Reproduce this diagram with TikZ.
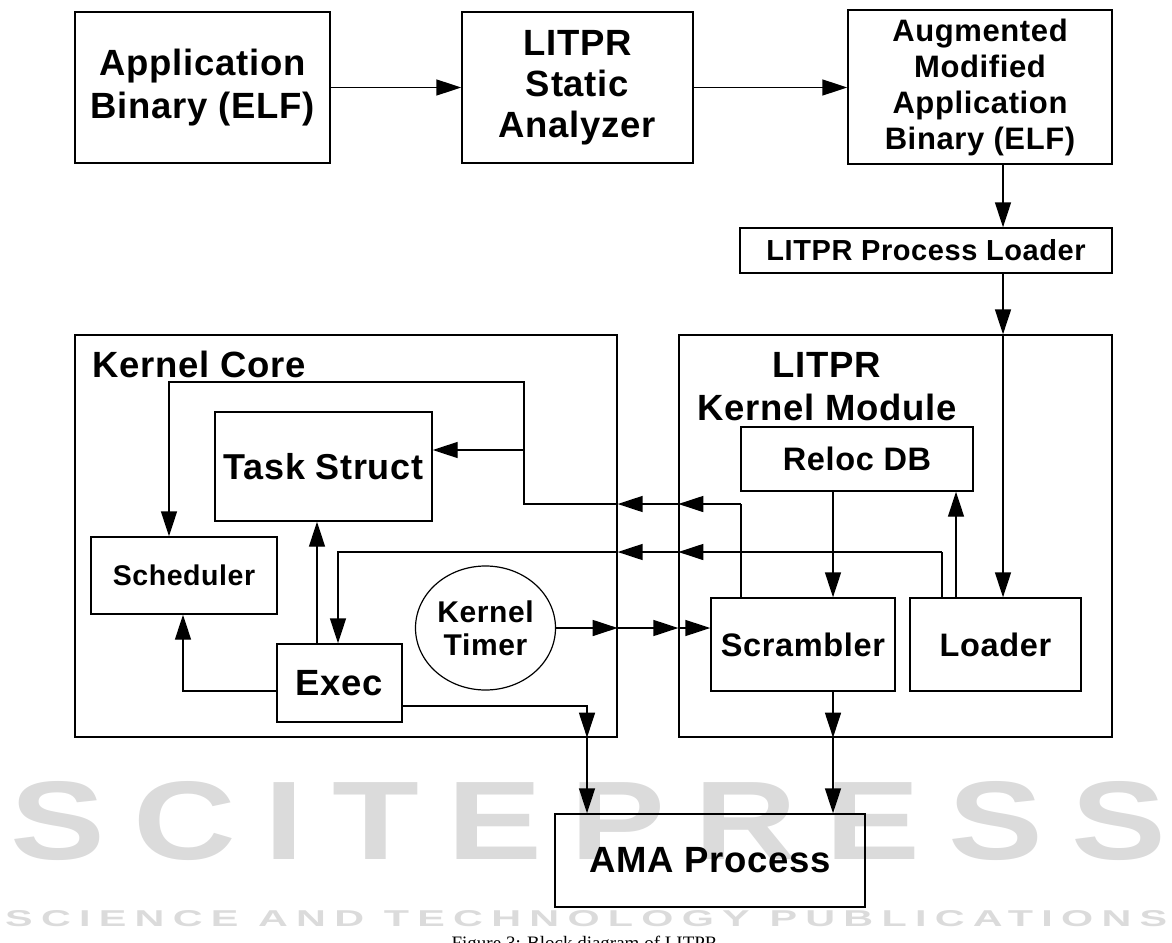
\documentclass[tikz,border=0pt]{standalone}
\usepackage{fontspec}
\setmainfont{Liberation Sans}
\newfontfamily\lbf{Liberation Sans}[LetterSpace=2]
\newfontfamily\wmf{Liberation Sans}[LetterSpace=20]
\newfontfamily\capf{Liberation Serif}
\usetikzlibrary{arrows.meta,shapes.geometric}
\newcommand{\fsz}[2]{\fontsize{#1}{#2}\selectfont}
\begin{document}
\begin{tikzpicture}[x=1pt,y=-1pt,
  box/.style={draw, line width=1.4pt, inner sep=0pt, align=center},
  arr/.style={line width=1.4pt, -{Triangle[length=25pt,width=16pt]}},
  ln/.style={line width=1.4pt},
  wm/.style={inner sep=0pt, text=black!14}]
\useasboundingbox (0,0) rectangle (1172,942);
% watermark
\node[wm, anchor=south west] (wm1) at (10,861) {\resizebox{1155pt}{78pt}{\wmf\bfseries SCITEPRESS}};
\node[wm, anchor=south west] (wm2) at (5,927) {\resizebox{1162pt}{16pt}{\wmf\bfseries SCIENCE AND TECHNOLOGY PUBLICATIONS}};
\node[anchor=base, inner sep=0pt, font=\capf\fsz{19}{22}] (cap) at (587,949) {Figure 3: Block diagram of LITPR.};
% top row
\node[box, minimum width=255, minimum height=151, font=\lbf\bfseries\fsz{36.5}{43}] (app) at (202.5,87.5) {Application\\Binary (ELF)};
\node[box, minimum width=231, minimum height=151, font=\lbf\bfseries\fsz{36.5}{41}] (sa) at (577.5,87.5) {LITPR\\Static\\Analyzer};
\node[box, minimum width=264, minimum height=154, font=\lbf\bfseries\fsz{31}{36}] (aug) at (980,87) {Augmented\\Modified\\Application\\Binary (ELF)};
\node[box, minimum width=372, minimum height=45, font=\lbf\bfseries\fsz{29}{32}] (pl) at (926,250.5) {LITPR Process Loader};
% big containers
\node[box, line width=1.3pt, minimum width=542, minimum height=402] (kc) at (346,536) {};
\node[box, line width=1.3pt, minimum width=433, minimum height=402] (km) at (895.5,536) {};
\node[anchor=base west, inner sep=0pt, font=\lbf\bfseries\fsz{36.5}{42}] (kct) at (92,377) {Kernel Core};
\node[anchor=base, inner sep=0pt, font=\lbf\bfseries\fsz{36.5}{42}] (kmt1) at (827,377) {LITPR};
\node[anchor=base, inner sep=0pt, font=\lbf\bfseries\fsz{36.5}{42}] (kmt2) at (827,420) {Kernel Module};
% kernel core content
\node[box, minimum width=217, minimum height=109, font=\lbf\bfseries\fsz{36}{40}] (ts) at (323.5,466.5) {Task Struct};
\node[box, minimum width=186, minimum height=77, font=\lbf\bfseries\fsz{28.5}{32}] (sch) at (184,575.5) {Scheduler};
\node[box, minimum width=125, minimum height=78, font=\lbf\bfseries\fsz{36.5}{40}] (exec) at (339.5,683) {Exec};
\node[draw, ellipse, line width=1.2pt, inner sep=0pt, minimum width=140, minimum height=124, align=center, font=\lbf\bfseries\fsz{30}{33}] (timer) at (485.5,628) {Kernel\\Timer};
% module content
\node[box, minimum width=232, minimum height=64, font=\lbf\bfseries\fsz{32.5}{36}] (reloc) at (857,459) {Reloc DB};
\node[box, minimum width=184, minimum height=93, font=\lbf\bfseries\fsz{32.5}{36}] (scr) at (803,644.5) {Scrambler};
\node[box, minimum width=171, minimum height=93, font=\lbf\bfseries\fsz{32.5}{36}] (ldr) at (995.5,644.5) {Loader};
\node[box, minimum width=310, minimum height=93, font=\lbf\bfseries\fsz{36.5}{40}] (ama) at (710,860.5) {AMA Process};
% connectors top
\draw[arr] (app) -- (sa);
\draw[arr] (sa.east) -- (aug.west |- sa.east);
\coordinate (xl) at (1003,0);
\draw[arr] (xl |- aug.south) -- (xl |- pl.north);
\draw[arr] (xl |- pl.south) -- (xl |- km.north);
\draw[arr] (xl |- km.north) -- (xl |- ldr.north);
% upper return line
\coordinate (ua) at (741,504);
\coordinate (ub) at (524,504);
\coordinate (uc) at (524,382);
\coordinate (ud) at (169,382);
\coordinate (ue) at (524,450);
\draw[ln] (ua |- scr.north) -- (ua);
\draw[arr] (ua) -- (ua -| km.west);
\draw[arr] (ua -| km.west) -- (ua -| kc.east);
\draw[arr] (ua -| kc.east) -- (ub) -- (uc) -- (ud) -- (ud |- sch.north);
\draw[arr] (ue) -- (ue -| ts.east);
% lower return line
\coordinate (la) at (942,552);
\coordinate (lb) at (338,552);
\draw[ln] (la |- ldr.north) -- (la);
\draw[arr] (la) -- (la -| km.west);
\draw[arr] (la -| km.west) -- (la -| kc.east);
\draw[arr] (la -| kc.east) -- (lb) -- (lb |- exec.north);
% timer
\draw[arr] (timer.east) -- (timer.east -| kc.east);
\draw[arr] (timer.east -| kc.east) -- (timer.east -| km.west);
\draw[arr] (timer.east -| km.west) -- (timer.east -| scr.west);
% module internal
\coordinate (xr) at (833,0);
\draw[arr] (xr |- reloc.south) -- (xr |- scr.north);
\draw[arr] (xr |- scr.south) -- (xr |- km.south);
\draw[arr] (xr |- km.south) -- (xr |- ama.north);
\coordinate (xq) at (956,0);
\draw[arr] (xq |- ldr.north) -- (xq |- reloc.south);
% exec
\coordinate (ea) at (317,0);
\draw[arr] (ea |- exec.north) -- (ea |- ts.south);
\coordinate (eb) at (183,691);
\draw[arr] (eb -| exec.west) -- (eb) -- (eb |- sch.south);
\coordinate (ec) at (587,706);
\draw[arr] (ec -| exec.east) -- (ec) -- (ec |- kc.south);
\draw[arr] (ec |- kc.south) -- (ec |- ama.north);
\end{tikzpicture}
\end{document}
